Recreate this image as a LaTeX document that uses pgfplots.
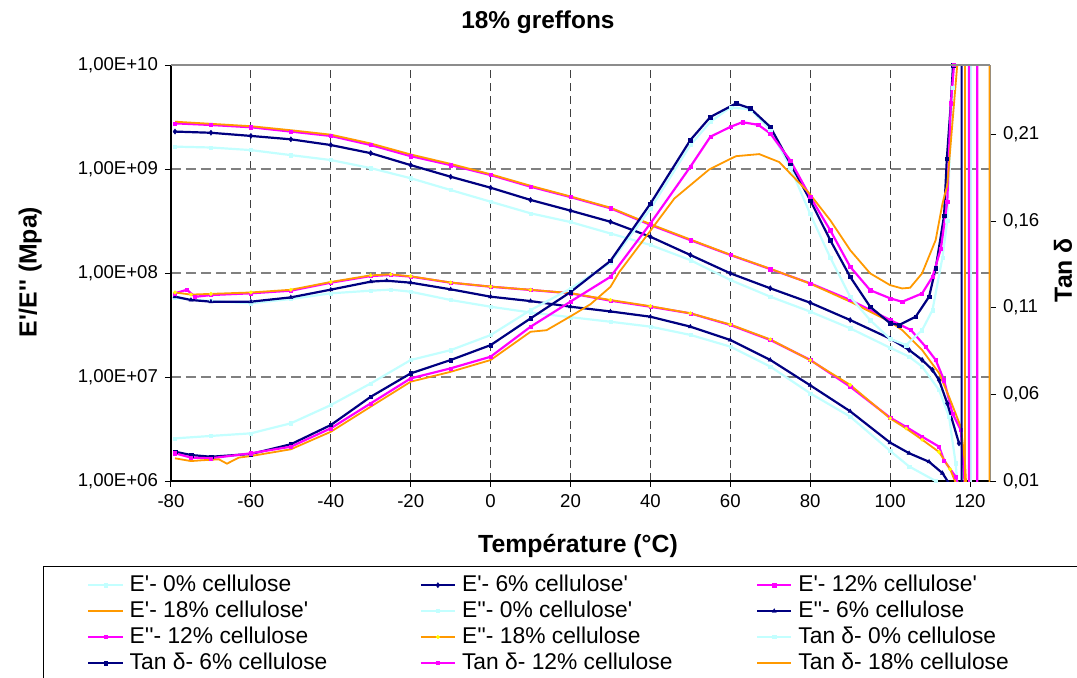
\documentclass[border=0pt]{standalone}
\usepackage{fontspec}
\setmainfont{Liberation Sans}[Ligatures=TeXOff]
\usepackage{pgfplots}
\pgfplotsset{compat=1.18}
\definecolor{ltc}{RGB}{195,255,255}
\definecolor{nav}{RGB}{0,0,128}
\definecolor{mag}{RGB}{255,0,255}
\definecolor{org}{RGB}{255,153,0}
\definecolor{yel}{RGB}{255,255,0}
\pgfplotsset{
 sZero/.style={color=ltc, line width=1.1pt, mark=square*, mark size=0.8pt, mark options={solid,line width=0.2pt}},
 sSixA/.style={color=nav, line width=1.1pt, mark=diamond*, mark size=1.3pt, mark options={solid,line width=0.2pt}},
 sSixB/.style={color=nav, line width=1.1pt, mark=triangle*, mark size=1.2pt, mark options={solid,line width=0.2pt}},
 sSixC/.style={color=nav, line width=1.1pt, mark=square*, mark size=0.9pt, mark options={solid,line width=0.2pt}},
 sTwelve/.style={color=mag, line width=1.1pt, mark=square*, mark size=0.8pt, mark options={solid,line width=0.2pt}},
 sEighteen/.style={color=org, line width=0.9pt},
 sEighteenY/.style={color=org, line width=0.9pt, mark=*, mark size=0.9pt, mark options={solid,fill=yel,draw=yel,line width=0.2pt}},
}
\newcommand\lgd[2]{\makebox[#1][l]{\hspace{3pt}#2}}
\begin{document}
\begin{tikzpicture}
\useasboundingbox (-85.5pt,-98pt) rectangle (453pt,240.5pt);
\begin{axis}[
 name=A,
 width=409.5pt, height=208pt, scale only axis,
 xmin=-80, xmax=125, ymin=1e6, ymax=1e10, ymode=log, yminorticks=false,
 xtick={-80,-60,-40,-20,0,20,40,60,80,100,120},
 xticklabels={-80,-60,-40,-20,0,20,40,60,80,100,120},
 ytick={1e6,1e7,1e8,1e9,1e10},
 yticklabels={{1,00E+06},{1,00E+07},{1,00E+08},{1,00E+09},{1,00E+10}},
 axis x line*=bottom, axis y line*=left,
 axis line style={black, line width=0.6pt, -},
 tick align=outside, major tick length=3pt, tick style={black,line width=0.5pt},
 xmajorgrids, ymajorgrids,
 x grid style={black!75, dash pattern=on 4pt off 2.5pt, line width=0.45pt},
 y grid style={black!50, dash pattern=on 5pt off 2.5pt, line width=0.7pt},
 ticklabel style={font=\fontsize{9.3}{11}\selectfont},
 xlabel={Température (°C)}, ylabel={E'/E'' (Mpa)},
 label style={font=\bfseries\fontsize{12.4}{14}\selectfont},
 xlabel style={at={(axis description cs:0.497,-0.156)}, anchor=center},
 ylabel style={at={(axis description cs:-0.172,0.502)}, anchor=center},
 title={18\% greffons},
 title style={font=\bfseries\fontsize{12.2}{14}\selectfont, at={(axis description cs:0.448,1.103)}, anchor=center, yshift=-6pt},
]
% E' 0%
\addplot[sZero] coordinates {(-79,1.64e9) (-70,1.61e9) (-60,1.52e9) (-50,1.36e9) (-40,1.22e9) (-30,1.02e9) (-20,8.15e8) (-10,6.28e8) (0,4.85e8) (10,3.75e8) (20,3.09e8) (30,2.40e8) (40,1.86e8) (50,1.33e8) (60,8.57e7) (70,5.92e7) (80,4.25e7) (90,2.94e7) (100,1.91e7) (104.75,1.57e7) (108,1.26e7) (112.25,7.5e6) (114.75,4.15e6) (116.4,1.48e6) (117,7.9e5)};
% E' 6%
\addplot[sSixA] coordinates {(-79,2.29e9) (-70,2.23e9) (-60,2.08e9) (-50,1.93e9) (-40,1.70e9) (-30,1.42e9) (-20,1.09e9) (-10,8.43e8) (0,6.61e8) (10,5.04e8) (20,3.98e8) (30,3.11e8) (40,2.23e8) (50,1.49e8) (60,9.93e7) (70,7.13e7) (80,5.18e7) (90,3.53e7) (100,2.34e7) (104.75,1.82e7) (108,1.46e7) (110.6,1.17e7) (112.25,9.33e6) (114.3,5.58e6) (117.25,2.30e6)};
% E' 12%
\addplot[sTwelve] coordinates {(-79,2.75e9) (-70,2.65e9) (-60,2.52e9) (-50,2.29e9) (-40,2.08e9) (-30,1.70e9) (-20,1.33e9) (-10,1.09e9) (0,8.75e8) (10,6.76e8) (20,5.37e8) (30,4.19e8) (40,2.90e8) (50,2.07e8) (60,1.49e8) (70,1.09e8) (80,7.96e7) (90,5.50e7) (100,3.53e7) (105.2,2.83e7) (108.9,1.95e7) (111.4,1.46e7) (113.5,9.33e6) (115.6,4.47e6) (117.7,3.09e6) (119,6.3e5)};
% E' 18%
\addplot[sEighteen] coordinates {(-79,2.85e9) (-70,2.72e9) (-60,2.58e9) (-50,2.36e9) (-40,2.14e9) (-30,1.76e9) (-20,1.38e9) (-10,1.12e9) (0,8.9e8) (10,6.9e8) (20,5.45e8) (30,4.25e8) (40,2.95e8) (50,2.1e8) (60,1.5e8) (70,1.1e8) (80,7.9e7) (90,5.3e7) (100,3.4e7) (103,2.83e7) (108,1.82e7) (112.25,1.09e7) (114.75,6.46e6) (117.7,3.31e6) (118.75,1.48e6) (119.3,6e5)};
% E'' 0%
\addplot[sZero] coordinates {(-79,5.75e7) (-70,5.37e7) (-60,5.12e7) (-50,5.62e7) (-40,6.38e7) (-30,6.76e7) (-25,6.92e7) (-20,6.61e7) (-10,5.50e7) (0,4.74e7) (10,4.17e7) (20,3.76e7) (30,3.40e7) (40,3.05e7) (50,2.54e7) (60,1.96e7) (70,1.26e7) (80,6.97e6) (90,4.16e6) (100,1.95e6) (104.75,1.38e6) (111.4,1.0e6) (112.5,8.5e5)};
% E'' 6%
\addplot[sSixB] coordinates {(-79,5.92e7) (-75,5.5e7) (-70,5.30e7) (-60,5.30e7) (-50,5.83e7) (-40,6.92e7) (-30,8.26e7) (-26,8.43e7) (-20,8.07e7) (-10,6.97e7) (0,5.92e7) (10,5.37e7) (20,4.74e7) (30,4.27e7) (40,3.80e7) (50,3.05e7) (60,2.27e7) (70,1.46e7) (80,8.32e6) (90,4.68e6) (100,2.34e6) (104.75,1.85e6) (109.75,1.53e6) (113.1,1.19e6) (114.75,9.5e5)};
% E'' 12%
\addplot[sTwelve] coordinates {(-79,6.38e7) (-76,6.9e7) (-74,5.9e7) (-70,6.14e7) (-60,6.38e7) (-50,6.76e7) (-40,8.07e7) (-30,9.35e7) (-25,9.57e7) (-20,9.23e7) (-10,8.07e7) (0,7.38e7) (10,6.87e7) (20,6.38e7) (30,5.42e7) (40,4.74e7) (50,4.09e7) (60,3.16e7) (70,2.27e7) (80,1.46e7) (90,8.07e6) (100,4.07e6) (104,3.31e6) (108,2.67e6) (112.25,2.14e6) (113.5,1.58e6) (116.4,1.10e6) (117.5,7.9e5)};
% E'' 18%
\addplot[sEighteenY] coordinates {(-79,6.5e7) (-75,6.2e7) (-70,6.3e7) (-60,6.5e7) (-50,6.9e7) (-40,8.2e7) (-30,9.5e7) (-25,9.7e7) (-20,9.3e7) (-10,8.1e7) (0,7.4e7) (10,6.9e7) (20,6.4e7) (30,5.5e7) (40,4.8e7) (50,4.1e7) (60,3.2e7) (70,2.3e7) (80,1.45e7) (90,8.4e6) (100,4.0e6) (104,3.2e6) (108,2.5e6) (112.25,1.9e6) (115,1.3e6) (117,8.5e5)};
\end{axis}
\begin{axis}[
 width=409.5pt, height=208pt, scale only axis,
 xmin=-80, xmax=125, ymin=0.01, ymax=0.25,
 axis x line=none, axis y line*=right,
 axis line style={black!45, line width=0.6pt, -},
 ytick={0.01,0.06,0.11,0.16,0.21},
 yticklabels={{0,01},{0,06},{0,11},{0,16},{0,21}},
 tick align=outside, major tick length=3pt, tick style={black,line width=0.5pt},
 ticklabel style={font=\fontsize{9.3}{11}\selectfont},
 ylabel={Tan δ},
 label style={font=\bfseries\fontsize{12.4}{14}\selectfont},
 ylabel style={at={(axis description cs:1.089,0.507)}, anchor=center},
 legend columns=3,
 legend cell align=left,
 legend style={at={(axis description cs:-0.15629,-0.20433)}, anchor=north west,
   draw=black, inner xsep=22pt, inner ysep=4.5pt, row sep=3.2pt,
   font=\fontsize{11.4}{13}\selectfont, nodes={inner sep=0pt}},
]
\addlegendimage{color=ltc, line width=1.1pt, mark=square*, mark size=0.8pt, mark options={solid,line width=0.2pt}}
\addlegendentry{\lgd{148pt}{E'- 0\% cellulose}}
\addlegendimage{color=nav, line width=1.1pt, mark=diamond*, mark size=1.3pt, mark options={solid,line width=0.2pt}}
\addlegendentry{\lgd{150pt}{E'- 6\% cellulose'}}
\addlegendimage{color=mag, line width=1.1pt, mark=square*, mark size=0.8pt, mark options={solid,line width=0.2pt}}
\addlegendentry{\lgd{122pt}{E'- 12\% cellulose'}}
\addlegendimage{color=org, line width=0.9pt, mark=none}
\addlegendentry{\lgd{148pt}{E'- 18\% cellulose'}}
\addlegendimage{color=ltc, line width=1.1pt, mark=square*, mark size=0.8pt, mark options={solid,line width=0.2pt}}
\addlegendentry{\lgd{150pt}{E''- 0\% cellulose'}}
\addlegendimage{color=nav, line width=1.1pt, mark=triangle*, mark size=1.2pt, mark options={solid,line width=0.2pt}}
\addlegendentry{\lgd{122pt}{E''- 6\% cellulose}}
\addlegendimage{color=mag, line width=1.1pt, mark=square*, mark size=0.8pt, mark options={solid,line width=0.2pt}}
\addlegendentry{\lgd{148pt}{E''- 12\% cellulose}}
\addlegendimage{color=org, line width=0.9pt, mark=*, mark size=0.9pt, mark options={solid,fill=yel,draw=yel,line width=0.2pt}}
\addlegendentry{\lgd{150pt}{E''- 18\% cellulose}}
% Tan 0%
\addplot[sZero] coordinates {(-79,0.0346) (-70,0.036) (-60,0.0375) (-50,0.0433) (-40,0.0538) (-30,0.0663) (-20,0.0798) (-10,0.0855) (0,0.0942) (10,0.1086) (20,0.121) (30,0.136) (40,0.167) (50,0.2038) (55,0.2172) (60,0.2255) (65,0.2245) (70,0.2124) (75,0.191) (80,0.164) (85,0.139) (90,0.1163) (95,0.1028) (100,0.092) (104,0.0884) (108,0.097) (110.6,0.1086) (113.1,0.139) (114.3,0.160) (115.6,0.237) (116.2,0.3) (120.2,0.3) (120.2,-0.1)};
\addlegendentry{\lgd{122pt}{Tan δ- 0\% cellulose}}
% Tan 6%
\addplot[sSixC] coordinates {(-79,0.0269) (-75,0.025) (-70,0.024) (-60,0.0256) (-50,0.0312) (-40,0.0423) (-30,0.0586) (-20,0.0721) (-10,0.0798) (0,0.0884) (10,0.1038) (20,0.119) (30,0.137) (40,0.170) (50,0.2067) (55,0.220) (61.4,0.2278) (65,0.225) (70,0.2143) (75,0.1932) (80,0.172) (85,0.149) (90,0.1278) (95,0.1105) (100,0.101) (102.25,0.100) (106.4,0.1048) (109.75,0.1163) (111.4,0.1327) (113.5,0.163) (114.2,0.196) (115.2,0.228) (115.75,0.25) (116.2,0.3) (117.9,0.3) (117.9,-0.1)};
\addlegendentry{\lgd{148pt}{Tan δ- 6\% cellulose}}
% Tan 12%
\addplot[sTwelve] coordinates {(-79,0.026) (-75,0.0235) (-70,0.0231) (-60,0.026) (-50,0.0298) (-40,0.0404) (-30,0.0548) (-20,0.0692) (-10,0.075) (0,0.0817) (10,0.099) (20,0.1135) (30,0.1278) (40,0.1586) (50,0.1913) (55,0.2086) (60,0.2143) (63,0.217) (67,0.2155) (70,0.2105) (75,0.195) (80,0.174) (85,0.1547) (90,0.1336) (95,0.1201) (100,0.1154) (103,0.1134) (108,0.1182) (110.6,0.1278) (112.7,0.144) (114.3,0.171) (115.2,0.228) (116,0.25) (116.5,0.3) (119.75,0.3) (119.75,-0.1) (121.8,-0.1) (121.8,0.3)};
\addlegendentry{\lgd{150pt}{Tan δ- 12\% cellulose}}
% Tan 18%
\addplot[sEighteen] coordinates {(-79,0.0231) (-75,0.0215) (-72,0.022) (-68,0.0225) (-66,0.020) (-63,0.0235) (-60,0.0244) (-50,0.0283) (-40,0.0384) (-30,0.0529) (-20,0.0673) (-10,0.073) (0,0.0798) (10,0.0961) (14,0.097) (20,0.105) (25,0.112) (30,0.122) (32.25,0.1307) (38.9,0.151) (46,0.173) (54.75,0.1898) (61.4,0.1974) (67.25,0.1986) (72.25,0.194) (79.75,0.176) (85,0.1605) (90,0.1432) (95,0.1298) (100,0.123) (103,0.1211) (105,0.1215) (108,0.1298) (111.4,0.149) (113.1,0.170) (114.3,0.1807) (116.8,0.25) (117.2,0.3) (118.75,0.3) (118.75,-0.1) (124.9,-0.1) (124.9,0.3)};
\addlegendentry{\lgd{122pt}{Tan δ- 18\% cellulose}}
\end{axis}
\draw[black!45, line width=0.6pt] (A.north west) -- (A.north east);
\end{tikzpicture}
\end{document}
